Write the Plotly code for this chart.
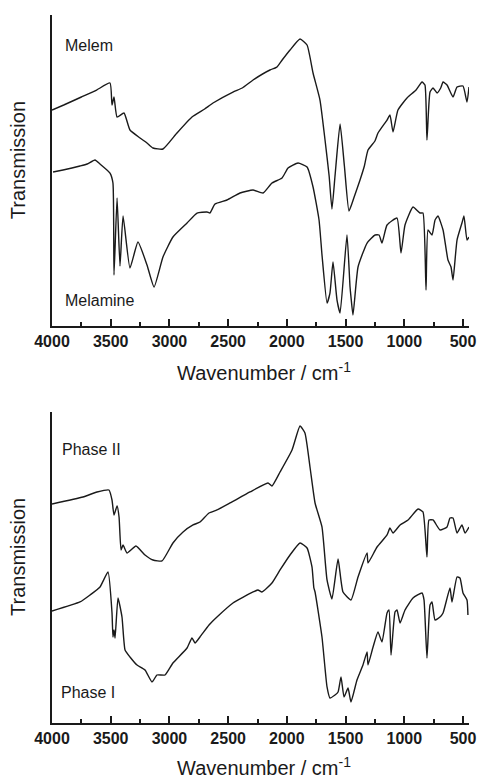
import plotly.graph_objects as go

# ---------- data (wavenumber in cm^-1, transmission in arbitrary units) ----------
melem_wn = [4000, 3900, 3750, 3620, 3506, 3489, 3472, 3446, 3387, 3336, 3250, 3191, 3140, 3055,
            2936, 2808, 2700, 2629, 2459, 2380, 2288, 2144, 2100, 2084, 2040, 1973, 1888, 1828,
            1777, 1718, 1675, 1640, 1616, 1590, 1547, 1510, 1471, 1430, 1377, 1340, 1309, 1250,
            1224, 1147, 1122, 1096, 1054, 977, 900, 849, 824, 807, 781, 755, 721, 690, 670, 636,
            585, 551, 500, 466, 449]
melem_t = [216, 221, 229, 236, 243, 221, 229, 209, 213, 196, 188, 183, 178, 177,
           193, 209, 217, 223, 234, 238, 246, 256, 258, 259, 266, 276, 287, 281,
           253, 226, 186, 150, 117, 150, 202, 160, 115, 128, 146, 160, 176, 185,
           193, 206, 211, 194, 216, 228, 236, 244, 241, 186, 234, 238, 233, 238, 244, 241,
           229, 239, 240, 224, 239]

melamine_wn = [3991, 3906, 3830, 3762, 3700, 3634, 3591, 3506, 3481, 3472, 3446, 3421, 3395, 3336,
               3268, 3191, 3131, 3055, 2970, 2850, 2765, 2680, 2655, 2612, 2510, 2399, 2288, 2203,
               2127, 2041, 1990, 1905, 1828, 1777, 1726, 1700, 1658, 1633, 1607, 1573, 1547, 1488,
               1462, 1454, 1437, 1394, 1317, 1249, 1215, 1190, 1147, 1062, 1028, 994, 926, 866, 841,
               815, 798, 764, 738, 713, 670, 628, 602, 585, 551, 509, 492, 466, 449]
melamine_t = [154, 156, 158, 160, 162, 166, 162, 153, 143, 51, 128, 60, 110, 58,
              84, 61, 39, 69, 89, 103, 113, 114, 113, 122, 126, 133, 136, 133,
              143, 148, 158, 163, 159, 139, 106, 70, 23, 33, 64, 26, 13, 91,
              39, 29, 11, 59, 83, 91, 91, 83, 101, 108, 73, 101, 119, 113, 113,
              36, 96, 91, 106, 110, 96, 66, 59, 46, 86, 103, 110, 86, 89]

phase2_wn = [4000, 3736, 3617, 3515, 3489, 3472, 3446, 3429, 3412, 3395, 3361, 3285, 3208, 3140,
             3063, 2970, 2884, 2799, 2740, 2663, 2595, 2484, 2314, 2161, 2127, 2058, 1956, 1888,
             1846, 1803, 1760, 1701, 1658, 1616, 1564, 1522, 1454, 1394, 1317, 1309, 1232, 1147,
             1122, 1096, 1036, 968, 883, 841, 807, 790, 755, 696, 636, 611, 585, 551, 509, 483, 449]
phase2_t = [219, 226, 231, 233, 223, 208, 217, 206, 173, 178, 170, 177, 168, 163,
            162, 180, 191, 198, 201, 210, 213, 220, 231, 240, 237, 251, 273, 297,
            290, 256, 220, 196, 143, 124, 164, 131, 123, 146, 170, 160, 176, 188,
            195, 190, 198, 203, 214, 211, 166, 203, 203, 193, 196, 205, 205, 190, 198, 190, 196]

phase1_wn = [4000, 3762, 3676, 3591, 3523, 3489, 3481, 3472, 3463, 3438, 3404, 3378, 3336, 3276,
             3208, 3148, 3106, 3038, 2970, 2850, 2808, 2782, 2740, 2663, 2595, 2459, 2288, 2246,
             2212, 2127, 2058, 1973, 1888, 1828, 1786, 1770, 1760, 1701, 1658, 1633, 1590, 1564,
             1539, 1513, 1479, 1454, 1403, 1352, 1317, 1309, 1266, 1224, 1190, 1147, 1130, 1113,
             1079, 1062, 1036, 994, 926, 849, 832, 807, 781, 764, 738, 696, 670, 611, 594, 551,
             526, 500, 466, 458]
phase1_t = [112, 121, 128, 136, 151, 110, 86, 93, 85, 125, 106, 73, 66, 58,
            53, 41, 48, 48, 60, 75, 85, 80, 86, 98, 106, 120, 131, 133,
            131, 140, 153, 168, 180, 175, 156, 135, 131, 86, 36, 25, 28, 31,
            46, 26, 35, 21, 43, 58, 71, 58, 76, 91, 81, 110, 113, 68,
            111, 113, 100, 113, 125, 130, 123, 65, 118, 121, 103, 106, 110, 135, 121, 146,
            145, 130, 123, 108]

x_ticks = [4000, 3500, 3000, 2500, 2000, 1500, 1000, 500]
x_range = [4000, 449]
y_range = [0, 311]

labels_top = [("Melem", 3906, 281), ("Melamine", 3906, 26)]
labels_bottom = [("Phase II", 3932, 273), ("Phase I", 3940, 30)]

x_title = "Wavenumber / cm<sup>-1</sup>"
y_title = "Transmission"

# ---------- figure ----------
ink = "#1a1a1a"
line = dict(color=ink, width=1.4, shape="spline", smoothing=0.45)
fig = go.Figure()
fig.add_trace(go.Scatter(x=melem_wn, y=melem_t, mode="lines", line=line, name="Melem",
                         xaxis="x", yaxis="y"))
fig.add_trace(go.Scatter(x=melamine_wn, y=melamine_t, mode="lines", line=line, name="Melamine",
                         xaxis="x", yaxis="y"))
fig.add_trace(go.Scatter(x=phase2_wn, y=phase2_t, mode="lines", line=line, name="Phase II",
                         xaxis="x2", yaxis="y2"))
fig.add_trace(go.Scatter(x=phase1_wn, y=phase1_t, mode="lines", line=line, name="Phase I",
                         xaxis="x2", yaxis="y2"))

font_family = "Liberation Sans, Arial, sans-serif"

def xaxis_cfg(anchor):
    return dict(
        anchor=anchor, range=x_range, autorange=False, automargin=False,
        tickmode="array", tickvals=x_ticks, ticktext=[str(v) for v in x_ticks],
        ticks="inside", ticklen=7, tickwidth=1.5, tickcolor=ink,
        minor=dict(tickmode="linear", tick0=250, dtick=500, ticks="inside", ticklen=4,
                   tickwidth=1.5, tickcolor=ink, showgrid=False),
        showline=True, linewidth=1.6, linecolor=ink,
        showgrid=False, zeroline=False,
        tickfont=dict(family=font_family, size=16, color=ink, weight="bold"),
    )

def yaxis_cfg(anchor, domain):
    return dict(
        anchor=anchor, domain=domain, range=y_range, autorange=False, automargin=False,
        showline=True, linewidth=1.6, linecolor=ink,
        showticklabels=False, ticks="", showgrid=False, zeroline=False,
    )

annotations = []
for txt, x, y in labels_top:
    annotations.append(dict(text=txt, x=x, y=y, xref="x", yref="y", xanchor="left",
                            yanchor="middle", showarrow=False,
                            font=dict(family=font_family, size=16, color=ink)))
for txt, x, y in labels_bottom:
    annotations.append(dict(text=txt, x=x, y=y, xref="x2", yref="y2", xanchor="left",
                            yanchor="middle", showarrow=False,
                            font=dict(family=font_family, size=16, color=ink)))

# axis titles (placed in paper coordinates)
title_font = dict(family=font_family, size=20, color=ink)
for ypos in (0.795, 0.2345):
    annotations.append(dict(text=y_title, x=-0.0815, y=ypos, xref="paper", yref="paper",
                            xanchor="center", yanchor="middle", textangle=-90,
                            showarrow=False, font=title_font))
annotations.append(dict(text=x_title, x=0.508, y=0.4958, xref="paper", yref="paper",
                        xanchor="center", yanchor="middle",
                        showarrow=False, font=title_font))
annotations.append(dict(text=x_title, x=0.508, y=-0.0818, xref="paper", yref="paper",
                        xanchor="center", yanchor="bottom",
                        showarrow=False, font=title_font))

fig.update_layout(
    width=481, height=782,
    margin=dict(l=52, r=12, t=15, b=59, autoexpand=False),
    paper_bgcolor="white", plot_bgcolor="white",
    showlegend=False,
    xaxis=xaxis_cfg("y"),
    yaxis=yaxis_cfg("x", [0.5607, 1.0]),
    xaxis2=xaxis_cfg("y2"),
    yaxis2=yaxis_cfg("x2", [0.0, 0.4393]),
    annotations=annotations,
)

fig.write_html("out.html")
